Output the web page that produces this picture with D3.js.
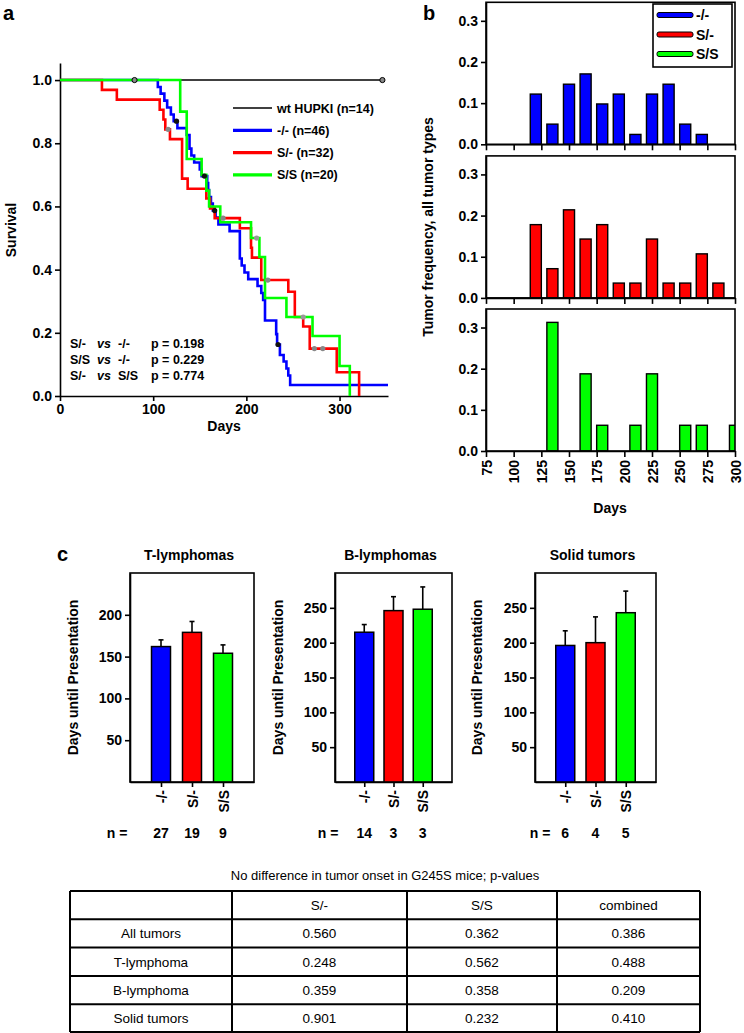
<!DOCTYPE html>
<html><head><meta charset="utf-8">
<script src="https://cdn.jsdelivr.net/npm/d3@7/dist/d3.min.js"></script>
<style>body{margin:0;background:#fff}svg{display:block}</style>
</head><body>
<svg id="fig" width="744" height="1033"></svg>
<script>
// ---------------- DATA ----------------
const genotypes = ["-/-", "S/-", "S/S"];
const genoColors = ["#0000ff", "#ff0000", "#00ff00"];

// panel a: Kaplan-Meier step points [day, survival]
const survLegend = ["wt HUPKI (n=14)", "-/- (n=46)", "S/- (n=32)", "S/S (n=20)"];
const survWt = [[0,1],[346,1]];
const survKO = [[0,1],[105,0.978],[108,0.957],[112,0.935],[115,0.913],[119,0.891],[122,0.870],[126,0.848],[136,0.826],[139,0.783],[141,0.761],[144,0.739],[150,0.717],[152,0.696],[158,0.674],[159,0.652],[160,0.630],[162,0.609],[164,0.587],[167,0.565],[170,0.543],[182,0.522],[193,0.435],[195,0.413],[198,0.391],[202,0.370],[212,0.348],[216,0.326],[218,0.304],[220,0.239],[232,0.196],[233,0.163],[236,0.130],[240,0.109],[243,0.087],[245,0.065],[247,0.035],[352,0.035]];
const survSm = [[0,1],[45,0.969],[61,0.938],[107,0.906],[111,0.875],[113,0.844],[118,0.813],[131,0.688],[137,0.656],[157,0.625],[161,0.594],[166,0.563],[193,0.531],[205,0.469],[206,0.438],[216,0.367],[245,0.330],[252,0.25],[261,0.22],[268,0.15],[297,0.075],[321,0]];
const survSS = [[0,1],[129,0.9],[136,0.75],[152,0.70],[157,0.65],[160,0.60],[172,0.55],[205,0.50],[214,0.44],[220,0.31],[243,0.25],[271,0.19],[300,0.095],[311,0]];
const censorWt = [[80,1],[346,1]];
const censorKO = [[125,0.870],[155,0.696],[166,0.587],[234,0.163]];
const censorSm = [[116,0.844],[175,0.563],[223,0.367],[273,0.15],[282,0.15]];
const censorSS = [[211,0.50],[261,0.25]];
const xTicksA = [0,100,200,300];
const yTicksA = [0,0.2,0.4,0.6,0.8,1.0];
const pComparisons = [["S/-","vs","-/-","p = 0.198"],["S/S","vs","-/-","p = 0.229"],["S/-","vs","S/S","p = 0.774"]];

// panel b: tumor frequency per 15-day bin (bin centre day, frequency)
const freqKO = [[120,0.122],[135,0.049],[150,0.146],[165,0.171],[180,0.098],[195,0.122],[210,0.024],[225,0.122],[240,0.146],[255,0.049],[270,0.024]];
const freqSm = [[120,0.178],[135,0.071],[150,0.214],[165,0.143],[180,0.178],[195,0.036],[210,0.036],[225,0.143],[240,0.036],[255,0.036],[270,0.107],[285,0.036]];
const freqSS = [[135,0.3125],[165,0.1875],[180,0.0625],[210,0.0625],[225,0.1875],[255,0.0625],[270,0.0625],[300,0.0625]];
const xTicksB = [75,100,125,150,175,200,225,250,275,300];
const yTicksB = [0,0.1,0.2,0.3];

// panel c: days until presentation
const tumorTypes = ["T-lymphomas", "B-lymphomas", "Solid tumors"];
const meanDays = [[162,179,154],[215,246,248],[196,200,243]];
const errTopDays = [[170,192,164],[226,266,280],[217,237,274]];
const nMice = [[27,19,9],[14,3,3],[6,4,5]];
const yMaxC = [250,300,300];
const yTicksC = [[50,100,150,200],[50,100,150,200,250],[50,100,150,200,250]];

// table
const tableTitle = "No difference in  tumor onset in G245S mice; p-values";
const tableHeader = ["", "S/-", "S/S", "combined"];
const tableRowNames = ["All tumors", "T-lymphoma", "B-lymphoma", "Solid tumors"];
const pValSm = ["0.560","0.248","0.359","0.901"];
const pValSS = ["0.362","0.562","0.358","0.232"];
const pValComb = ["0.386","0.488","0.209","0.410"];

// ---------------- DRAWING ----------------
const FONT = '"Liberation Sans", Arial, Helvetica, sans-serif';
const svg = d3.select("#fig").attr("font-family", FONT);

function styleAxis(g, fs) {
  g.attr("font-family", FONT).attr("font-size", fs || 14).attr("font-weight", "bold");
  g.select(".domain").attr("stroke", "#000").attr("stroke-width", 1.6);
  g.selectAll(".tick line").attr("stroke", "#000").attr("stroke-width", 1.6);
  g.selectAll(".tick text").attr("fill", "#000");
}
function label(x, y, txt, opts) {
  opts = opts || {};
  const t = svg.append("text").attr("x", x).attr("y", y).text(txt)
    .attr("font-size", opts.size || 14).attr("font-weight", opts.weight || "bold")
    .attr("text-anchor", opts.anchor || "middle").attr("fill", "#000");
  if (opts.rotate) t.attr("transform", `rotate(${opts.rotate},${x},${y})`);
  if (opts.style) t.attr("font-style", opts.style);
  return t;
}

// panel letters
label(3, 20, "a", {size: 20, anchor: "start"});
label(423, 20, "b", {size: 20, anchor: "start"});
label(57, 561, "c", {size: 20, anchor: "start"});

// ===== Panel a =====
const xA = d3.scaleLinear().domain([0, 352]).range([60, 388]);
const yA = d3.scaleLinear().domain([0, 1.054]).range([396, 63]);
const gA = svg.append("g");
gA.append("g").attr("transform", "translate(0,396)")
  .call(d3.axisBottom(xA).tickValues(xTicksA).tickSize(5).tickSizeOuter(0).tickFormat(d3.format("d")))
  .call(g => styleAxis(g, 14));
gA.append("g").attr("transform", "translate(60,0)")
  .call(d3.axisLeft(yA).tickValues(yTicksA).tickSize(5).tickSizeOuter(0).tickFormat(d3.format(".1f")))
  .call(g => styleAxis(g, 14));
label(16, 230, "Survival", {rotate: -90});
label(224, 431, "Days");

const stepLine = d3.line().x(d => xA(d[0])).y(d => yA(d[1])).curve(d3.curveStepAfter);
const survSeries = [
  {data: survWt, color: "#000", w: 1.5, cens: censorWt, cfill: "#888"},
  {data: survKO, color: genoColors[0], w: 2.6, cens: censorKO, cfill: "#111"},
  {data: survSm, color: genoColors[1], w: 2.6, cens: censorSm, cfill: "#888"},
  {data: survSS, color: genoColors[2], w: 2.6, cens: censorSS, cfill: "#999"}
];
survSeries.forEach(s => {
  gA.append("path").attr("d", stepLine(s.data)).attr("fill", "none")
    .attr("stroke", s.color).attr("stroke-width", s.w);
});
survSeries.forEach((s, i) => {
  gA.selectAll(null).data(s.cens).enter().append("circle")
    .attr("cx", d => xA(d[0])).attr("cy", d => yA(d[1])).attr("r", 2.6)
    .attr("fill", s.cfill).attr("stroke", i === 0 ? "#000" : "none").attr("stroke-width", 1);
});
// legend a
survLegend.forEach((t, i) => {
  const y = 108 + i * 22.3;
  gA.append("line").attr("x1", 233).attr("x2", 272).attr("y1", y).attr("y2", y)
    .attr("stroke", survSeries[i].color).attr("stroke-width", i === 0 ? 1.6 : 3.2);
  gA.append("text").attr("x", 277).attr("y", y).attr("dy", "0.36em").text(t)
    .attr("font-size", 12.5).attr("font-weight", "bold");
});
// p-values
const pCols = [70, 97, 118, 151];
pComparisons.forEach((row, i) => {
  const y = 343 + i * 16;
  row.forEach((t, j) => {
    gA.append("text").attr("x", pCols[j]).attr("y", y).attr("dy", "0.36em").text(t)
      .attr("font-size", 12.5).attr("font-weight", "bold")
      .attr("font-style", j === 1 ? "italic" : "normal");
  });
});

// ===== Panel b =====
const xB = d3.scaleLinear().domain([75, 300]).range([486, 735]);
const zeroB = [144.3, 297.9, 451];
const freqSets = [freqKO, freqSm, freqSS];
const barWB = xB(85) - xB(75);
freqSets.forEach((set, k) => {
  const y0 = zeroB[k];
  const yB = d3.scaleLinear().domain([0, 0.345]).range([y0, y0 - 142]);
  const g = svg.append("g");
  const clipId = "clipB" + k;
  g.append("clipPath").attr("id", clipId).append("rect")
    .attr("x", xB(75)).attr("y", yB(0.345)).attr("width", xB(300) - xB(75)).attr("height", y0 - yB(0.345));
  g.append("g").attr("clip-path", `url(#${clipId})`)
    .selectAll("rect").data(set).enter().append("rect")
    .attr("x", d => xB(d[0]) - barWB / 2).attr("y", d => yB(d[1]))
    .attr("width", barWB).attr("height", d => y0 - yB(d[1]))
    .attr("fill", genoColors[k]).attr("stroke", "#000").attr("stroke-width", 1.4);
  g.append("rect").attr("x", xB(75)).attr("y", yB(0.345)).attr("width", xB(300) - xB(75))
    .attr("height", y0 - yB(0.345)).attr("fill", "none").attr("stroke", "#000").attr("stroke-width", 1.6);
  g.append("g").attr("transform", `translate(${xB(75)},0)`)
    .call(d3.axisLeft(yB).tickValues(yTicksB).tickSize(5).tickSizeOuter(0).tickFormat(d3.format(".1f")))
    .call(ax => styleAxis(ax, 14));
  const xa = g.append("g").attr("transform", `translate(0,${y0})`)
    .call(d3.axisBottom(xB).tickValues(xTicksB).tickSize(6).tickSizeOuter(0).tickFormat(k === 2 ? d3.format("d") : ""))
    .call(ax => styleAxis(ax, 14));
  if (k === 2) {
    xa.selectAll(".tick text").attr("transform", "rotate(-90)").attr("text-anchor", "end")
      .attr("x", -9).attr("y", 0).attr("dy", "0.36em");
  }
});
label(433, 227, "Tumor frequency, all tumor types", {rotate: -90});
label(610, 513, "Days");
// legend b
const legB = svg.append("g");
legB.append("rect").attr("x", 653).attr("y", 4).attr("width", 79).attr("height", 63)
  .attr("fill", "#fff").attr("stroke", "#000").attr("stroke-width", 1.6);
genotypes.forEach((t, i) => {
  const y = 15 + i * 19.5;
  legB.append("rect").attr("x", 657).attr("y", y - 2.5).attr("width", 36).attr("height", 5).attr("rx", 2)
    .attr("fill", genoColors[i]).attr("stroke", "#000").attr("stroke-width", 1);
  legB.append("text").attr("x", 696).attr("y", y).attr("dy", "0.36em").text(t)
    .attr("font-size", 14).attr("font-weight", "bold");
});

// ===== Panel c =====
const boxC = [[130, 254], [335, 452], [535, 656]];
const nLabelX = [117, 328, 540];
const yLabelX = [78, 283, 482];
const topC = 573, botC = 782;
tumorTypes.forEach((name, k) => {
  const [x0, x1] = boxC[k];
  const g = svg.append("g");
  const xC = d3.scalePoint().domain(genotypes).range([x0, x1]).padding(1);
  const yC = d3.scaleLinear().domain([0, yMaxC[k]]).range([botC, topC]);
  const bw = 19;
  g.append("rect").attr("x", x0).attr("y", topC).attr("width", x1 - x0).attr("height", botC - topC)
    .attr("fill", "none").attr("stroke", "#000").attr("stroke-width", 1.6);
  // error bars
  genotypes.forEach((gt, i) => {
    const cx = xC(gt);
    g.append("line").attr("x1", cx).attr("x2", cx).attr("y1", yC(meanDays[k][i])).attr("y2", yC(errTopDays[k][i]))
      .attr("stroke", "#000").attr("stroke-width", 1.6);
    g.append("line").attr("x1", cx - 2.5).attr("x2", cx + 2.5).attr("y1", yC(errTopDays[k][i])).attr("y2", yC(errTopDays[k][i]))
      .attr("stroke", "#000").attr("stroke-width", 1.6);
  });
  g.selectAll(".bar").data(meanDays[k]).enter().append("rect")
    .attr("x", (d, i) => xC(genotypes[i]) - bw / 2).attr("y", d => yC(d))
    .attr("width", bw).attr("height", d => botC - yC(d))
    .attr("fill", (d, i) => genoColors[i]).attr("stroke", "#000").attr("stroke-width", 1.5);
  g.append("g").attr("transform", `translate(${x0},0)`)
    .call(d3.axisLeft(yC).tickValues(yTicksC[k]).tickSize(5).tickSizeOuter(0))
    .call(ax => styleAxis(ax, 14));
  const xa = g.append("g").attr("transform", `translate(0,${botC})`)
    .call(d3.axisBottom(xC).tickSize(5).tickSizeOuter(0))
    .call(ax => styleAxis(ax, 14));
  xa.selectAll(".tick text").attr("transform", "rotate(-90)").attr("text-anchor", "end")
    .attr("x", -8).attr("y", 0).attr("dy", "0.36em");
  label((x0 + x1) / 2 - 3, 560, name, {size: 14});
  label(yLabelX[k], (topC + botC) / 2, "Days until Presentation", {rotate: -90});
  label(nLabelX[k], 838, "n =");
  nMice[k].forEach((n, i) => label(xC(genotypes[i]), 838, String(n)));
});

// ===== Table =====
const colX = [70, 232, 407, 557, 700];
const rowY = d3.range(6).map(i => 891 + i * 28.3);
label(385, 880, tableTitle, {size: 13, weight: "normal"});
const gT = svg.append("g");
const cells = [tableHeader].concat(tableRowNames.map((r, i) => [r, pValSm[i], pValSS[i], pValComb[i]]));
cells.forEach((row, r) => {
  row.forEach((t, c) => {
    gT.append("text").attr("x", (colX[c] + colX[c + 1]) / 2).attr("y", (rowY[r] + rowY[r + 1]) / 2)
      .attr("dy", "0.36em").attr("text-anchor", "middle").attr("font-size", 13.5).text(t);
  });
});
rowY.forEach((y, i) => gT.append("line").attr("x1", colX[0]).attr("x2", colX[4]).attr("y1", Math.min(y, 1032)).attr("y2", Math.min(y, 1032))
  .attr("stroke", "#000").attr("stroke-width", 2));
colX.forEach(x => gT.append("line").attr("x1", x).attr("x2", x).attr("y1", rowY[0]).attr("y2", 1032)
  .attr("stroke", "#000").attr("stroke-width", 2));
</script>
</body></html>
